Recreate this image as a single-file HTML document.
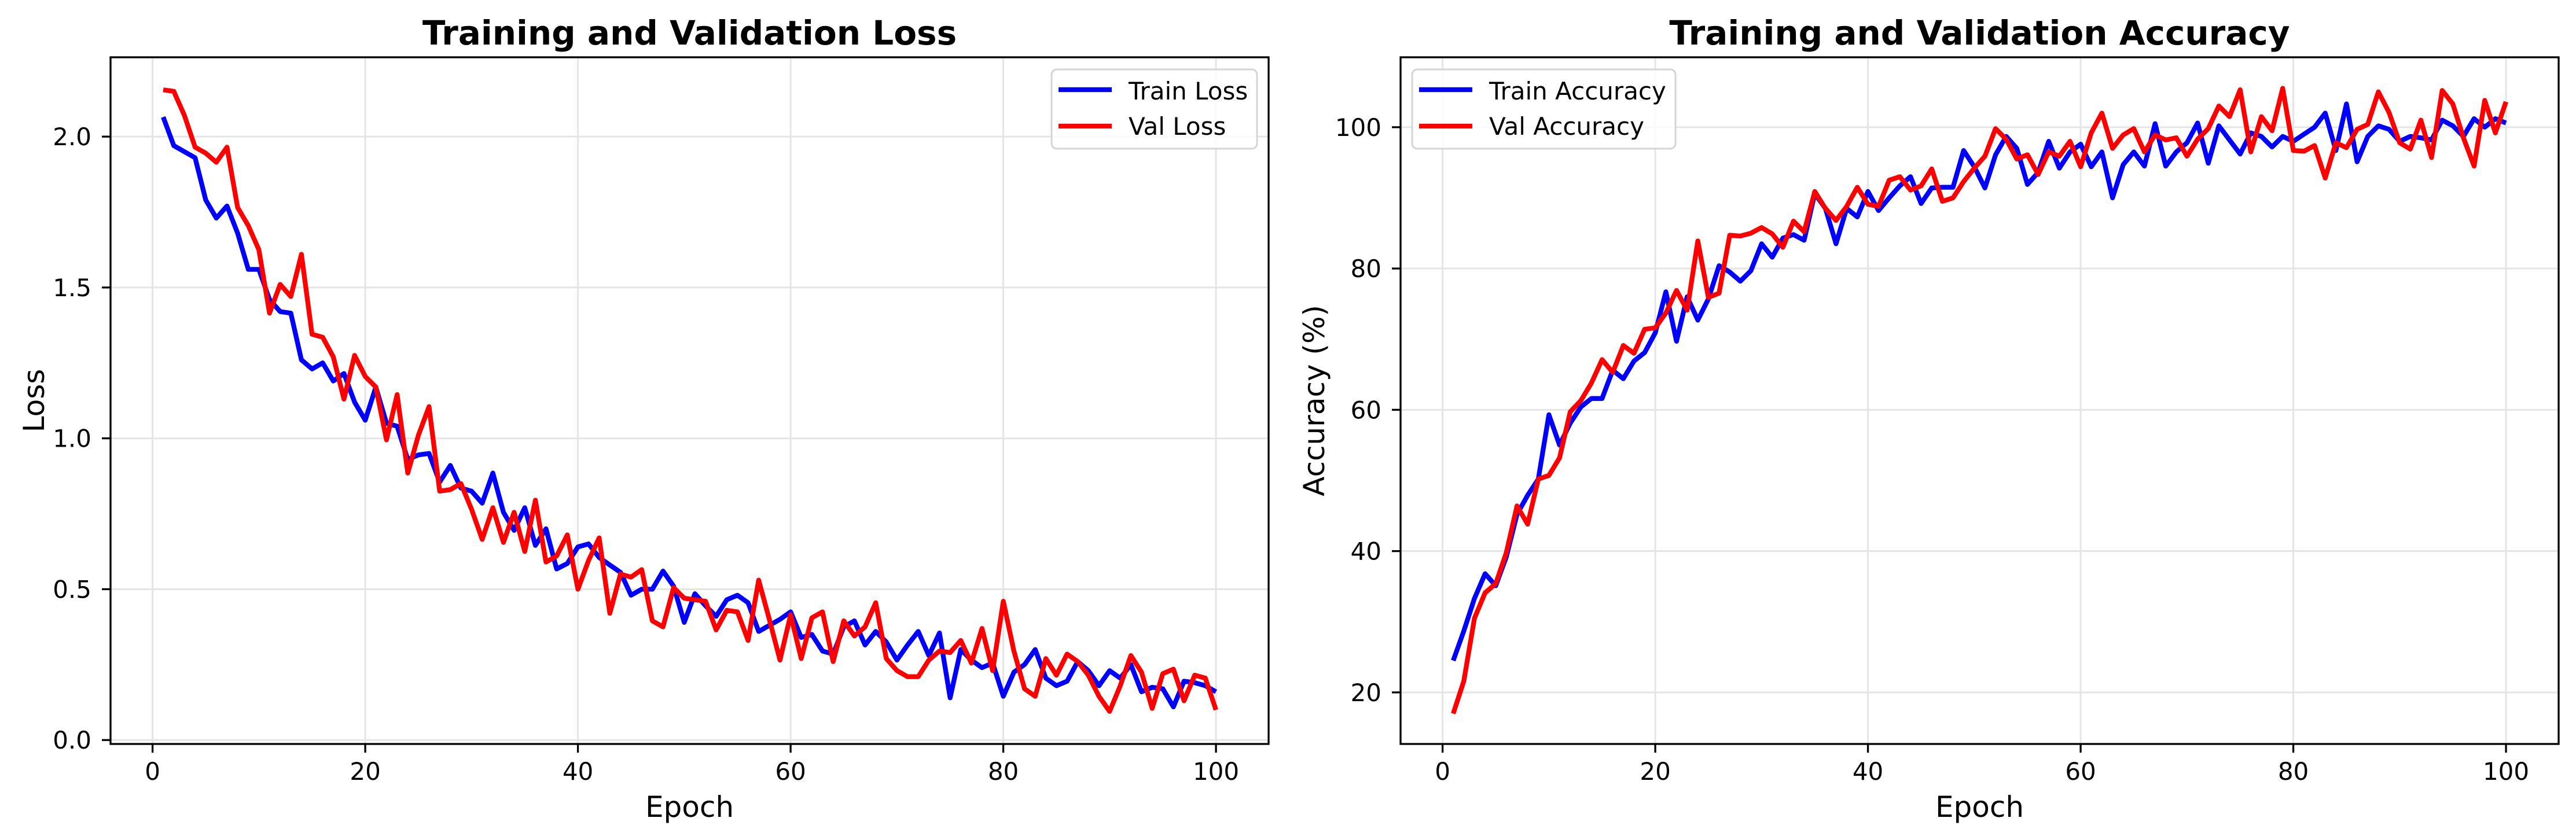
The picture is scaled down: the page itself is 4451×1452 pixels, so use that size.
<!DOCTYPE html>
<html><head><meta charset="utf-8"><style>
html,body{margin:0;padding:0;background:#fff;}
svg{display:block;font-family:"DejaVu Sans","Liberation Sans",sans-serif;}
</style></head><body>
<svg id="fig" width="4451" height="1452" viewBox="0 0 4451 1452" xmlns="http://www.w3.org/2000/svg">
<rect width="4451" height="1452" fill="#fff"/>
<g id="lossChart"></g>
<g id="accChart"></g>
</svg>
<script>
const epochs = Array.from({length:100},(_,i)=>i+1);
const trainLoss = [2.065,1.97,1.95,1.93,1.79,1.73,1.77,1.68,1.56,1.56,1.46,1.42,1.415,1.26,1.23,1.25,1.19,1.215,1.12,1.06,1.17,1.05,1.04,0.93,0.945,0.95,0.855,0.91,0.835,0.825,0.785,0.885,0.755,0.695,0.77,0.645,0.70,0.567,0.585,0.64,0.65,0.605,0.58,0.556,0.48,0.50,0.50,0.56,0.51,0.39,0.485,0.445,0.41,0.465,0.48,0.455,0.36,0.38,0.40,0.425,0.34,0.35,0.295,0.285,0.375,0.395,0.315,0.36,0.325,0.265,0.315,0.36,0.28,0.355,0.14,0.30,0.265,0.24,0.255,0.145,0.225,0.25,0.30,0.205,0.18,0.195,0.26,0.23,0.18,0.23,0.205,0.25,0.16,0.175,0.17,0.11,0.195,0.19,0.18,0.16];
const valLoss = [2.155,2.15,2.07,1.965,1.945,1.915,1.965,1.765,1.705,1.625,1.415,1.51,1.47,1.61,1.345,1.335,1.27,1.13,1.275,1.205,1.17,0.995,1.145,0.885,1.01,1.105,0.825,0.83,0.85,0.765,0.665,0.77,0.655,0.755,0.625,0.795,0.59,0.61,0.68,0.50,0.595,0.67,0.42,0.55,0.54,0.565,0.395,0.375,0.505,0.47,0.465,0.46,0.365,0.43,0.425,0.33,0.53,0.40,0.265,0.415,0.27,0.405,0.425,0.26,0.395,0.345,0.375,0.455,0.27,0.23,0.21,0.21,0.265,0.295,0.29,0.33,0.255,0.37,0.23,0.46,0.295,0.17,0.145,0.27,0.215,0.285,0.26,0.215,0.145,0.095,0.18,0.28,0.225,0.105,0.22,0.235,0.13,0.215,0.205,0.10];
const trainAcc = [24.5,28.7,33.3,36.8,35.1,39.2,45.2,47.9,50.2,59.3,55.0,58.1,60.4,61.6,61.6,65.6,64.4,66.9,68.1,70.9,76.7,69.7,76,72.7,75.7,80.4,79.5,78.2,79.7,83.5,81.6,84.3,84.8,84.0,90.6,88.5,83.5,88.5,87.3,90.9,88.2,90.0,91.7,93.0,89.2,91.4,91.5,91.5,96.7,94.4,91.4,96.1,98.7,97.0,91.9,93.6,98.0,94.2,96.5,97.6,94.4,96.5,90.0,94.7,96.5,94.5,100.5,94.5,96.5,97.8,100.6,94.9,100.2,98.2,96.2,99.2,98.7,97.2,98.7,98.0,99.0,100,102,96.7,103.3,95.1,98.7,100.2,99.7,98.0,98.7,98.5,98.2,101,100.2,98.7,101.2,100,101.2,100.6];
const valAcc = [17.0,21.6,30.5,34.1,35.4,39.8,46.4,43.8,50.2,50.7,53.2,59.7,61.3,63.8,67.1,65.3,69.1,68.0,71.4,71.6,73.7,76.9,74.1,83.9,75.9,76.5,84.7,84.6,85.0,85.8,84.9,83.0,86.7,85.2,90.9,88.5,86.8,88.8,91.5,89.1,88.8,92.5,93.0,91.1,91.7,94.1,89.5,90.0,92.3,94.2,95.9,99.8,98.3,95.5,96.1,93.3,96.5,95.9,98.0,94.4,99.2,102,97.0,98.9,99.8,96.5,98.9,98.2,98.5,95.9,98.3,99.8,103,101.5,105.3,96.5,101.5,99.5,105.5,96.7,96.6,97.4,92.8,97.8,97.1,99.7,100.4,105,102.1,97.8,96.9,101,95.7,105.2,103.3,98.5,94.5,103.8,99.2,103.6];
const xTicks = [0,20,40,60,80,100];
const lossTicks = [0.0,0.5,1.0,1.5,2.0];
const lossTickLabels = ["0.0","0.5","1.0","1.5","2.0"];
const accTicks = [20,40,60,80,100];
const accTickLabels = ["20","40","60","80","100"];

const NS="http://www.w3.org/2000/svg";
function mk(tag, attrs, parent){const e=document.createElementNS(NS,tag);for(const k in attrs)e.setAttribute(k,attrs[k]);parent.appendChild(e);return e;}

function drawChart(g, cfg){
  const L=cfg.left, R=cfg.right, T=99, B=1286;
  const xs=v=>L+(v-(-3.95))/(104.95-(-3.95))*(R-L);
  const ys=v=>B-(v-cfg.ymin)/(cfg.ymax-cfg.ymin)*(B-T);
  // grid
  xTicks.forEach(t=>{const l=mk('line',{x1:xs(t),x2:xs(t),y1:T,y2:B,stroke:'#e5e5e5','stroke-width':3},g);
    
    });
  cfg.yticks.forEach(t=>{const l=mk('line',{x1:L,x2:R,y1:ys(t),y2:ys(t),stroke:'#e5e5e5','stroke-width':3},g);
    
    });
  // series
  cfg.series.forEach(s=>{
    const pts=epochs.map((e,i)=>xs(e).toFixed(1)+','+ys(s.data[i]).toFixed(1)).join(' ');
    const p=mk('polyline',{points:pts,fill:'none',stroke:s.color,'stroke-width':8.3,'stroke-linejoin':'round','stroke-linecap':'butt'},g);
    
    
  });
  // frame
  const f=mk('rect',{x:L,y:T,width:R-L,height:B-T,fill:'none',stroke:'#000','stroke-width':3.3},g);
  
  
  // x ticks
  xTicks.forEach(t=>{
    const tk=mk('line',{x1:xs(t),x2:xs(t),y1:B,y2:B+15,stroke:'#000','stroke-width':3.3},g);
    
    
    const tx=mk('text',{x:xs(t),y:1348,'font-size':42,'text-anchor':'middle',fill:'#000'},g);
    tx.textContent=String(t);
    
    
  });
  cfg.yticks.forEach((t,i)=>{
    const tk=mk('line',{x1:L-15,x2:L,y1:ys(t),y2:ys(t),stroke:'#000','stroke-width':3.3},g);
    
    
    const tx=mk('text',{x:L-33,y:ys(t)+15,'font-size':42,'text-anchor':'end',fill:'#000'},g);
    tx.textContent=cfg.ylabels[i];
    
    
  });
  const cx=(L+R)/2;
  const ttl=mk('text',{x:cx,y:77,'font-size':58,'font-weight':'bold','text-anchor':'middle',fill:'#000'},g);
  ttl.textContent=cfg.title;
  
  
  const xl=mk('text',{x:cx,y:1412,'font-size':50,'text-anchor':'middle',fill:'#000'},g);
  xl.textContent='Epoch';
  
  
  const yl=mk('text',{x:0,y:0,'font-size':50,'text-anchor':'middle',fill:'#000',transform:`translate(${cfg.ylabX},${(T+B)/2}) rotate(-90)`},g);
  yl.textContent=cfg.ylabel;
  
  
  // legend
  const lg=mk('g',{},g);
  
  
  mk('rect',{x:cfg.legX,y:120,width:cfg.legW,height:137,rx:9,fill:'#fff','fill-opacity':0.8,stroke:'#d5d5d5','stroke-width':3},lg);
  cfg.series.forEach((s,i)=>{
    const yy=[155,218][i];
    const h=mk('line',{x1:cfg.legX+12,x2:cfg.legX+104,y1:yy,y2:yy,stroke:s.color,'stroke-width':8.3},lg);
    
    
    const t=mk('text',{x:cfg.legX+133,y:[172,233][i],'font-size':42,fill:'#000'},lg);
    t.textContent=s.label;
    
    
  });
}

drawChart(document.getElementById('lossChart'),{
  left:191,right:2192,ymin:-0.013,ymax:2.263,yticks:lossTicks,ylabels:lossTickLabels,
  title:'Training and Validation Loss',ylabel:'Loss',ylabX:76,legX:1817,legW:355,
  series:[{data:trainLoss,color:'#0000ff',label:'Train Loss',name:'train-loss-line'},
          {data:valLoss,color:'#ff0000',label:'Val Loss',name:'val-loss-line'}]
});
drawChart(document.getElementById('accChart'),{
  left:2420,right:4421,ymin:12.7,ymax:109.9,yticks:accTicks,ylabels:accTickLabels,
  title:'Training and Validation Accuracy',ylabel:'Accuracy (%)',ylabX:2288,legX:2440,legW:455,
  series:[{data:trainAcc,color:'#0000ff',label:'Train Accuracy',name:'train-accuracy-line'},
          {data:valAcc,color:'#ff0000',label:'Val Accuracy',name:'val-accuracy-line'}]
});
</script>
</body></html>
